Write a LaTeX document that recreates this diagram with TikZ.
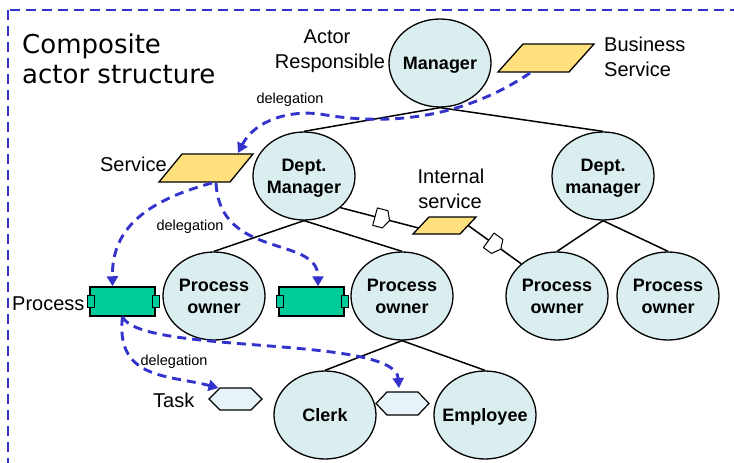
\documentclass[tikz,border=0pt]{standalone}
\usepackage{fontspec}
\setmainfont{Liberation Sans}
\newfontfamily\compfont{DejaVu Sans}
\usetikzlibrary{arrows.meta,calc,shapes.geometric}
\definecolor{actfill}{RGB}{218,237,239}
\definecolor{svcfill}{RGB}{255,224,124}
\definecolor{procfill}{RGB}{0,204,153}
\definecolor{taskfill}{RGB}{230,243,249}
\definecolor{dblue}{RGB}{51,51,204}
\newcommand\nodp[1]{\raisebox{0pt}[\height][0pt]{#1}}
\begin{document}
\begin{tikzpicture}[x=1pt,y=-1pt,
  actor/.style={ellipse,draw,line width=1.3pt,fill=actfill,minimum width=102pt,minimum height=88pt,inner sep=0pt},
  albl/.style={font=\fontsize{18}{22}\selectfont\bfseries,align=center,inner sep=0pt},
  treeline/.style={draw,line width=1.5pt},
  deleg/.style={draw=dblue,line width=2.9pt,dash pattern=on 9pt off 6pt,-{Triangle[length=10pt,width=11pt]}},
  svc/.style={draw,line width=1.3pt,fill=svcfill,line join=miter},
  proc/.style={draw,line width=1.5pt,fill=procfill,minimum width=65pt,minimum height=29pt,inner sep=0pt},
  tabbox/.style={draw,line width=1.3pt,fill=procfill,minimum width=7pt,minimum height=12pt,inner sep=0pt},
  taskshape/.style={draw,line width=1.2pt,fill=taskfill},
  txt/.style={font=\fontsize{20}{24}\selectfont,inner sep=0pt,anchor=base},
  smalltxt/.style={font=\fontsize{14.5}{17}\selectfont,inner sep=0pt,anchor=base},
  outerframe/.style={draw=dblue,line width=2.3pt,dash pattern=on 10pt off 6pt},
  plugst/.style={draw,fill=white,line width=1pt,line join=round}
]
\useasboundingbox (0,0) rectangle (734,463);
\clip (0,0) rectangle (734,463);
\draw[outerframe] (8,10) rectangle (780,500);

% actors
\node[actor, label={[albl]center:\nodp{Manager}}] (mgr) at (440,63) {};
\node[actor, label={[albl]center:{Dept.\\\nodp{Manager}}}] (dm1) at (304,176) {};
\node[actor, label={[albl]center:{Dept.\\\nodp{manager}}}] (dm2) at (603,176) {};
\node[actor, label={[albl]center:{Process\\\nodp{owner}}}] (po1) at (214,296) {};
\node[actor, label={[albl]center:{Process\\\nodp{owner}}}] (po2) at (402,296) {};
\node[actor, label={[albl]center:{Process\\\nodp{owner}}}] (po3) at (557,296) {};
\node[actor, label={[albl]center:{Process\\\nodp{owner}}}] (po4) at (668,296) {};
\node[actor, label={[albl]center:\nodp{Clerk}}] (clerk) at (325,415) {};
\node[actor, label={[albl]center:\nodp{Employee}}] (emp) at (485,415) {};

% tree lines
\draw[treeline] (mgr.south) -- (dm1.north);
\draw[treeline] (mgr.south) -- (dm2.north);
\draw[treeline] (dm1.south) -- (po1.north);
\draw[treeline] (dm1.south) -- (po2.north);
\draw[treeline] (dm2.south) -- (po3.north);
\draw[treeline] (dm2.south) -- (po4.north);
\draw[treeline] (po2.south) -- (clerk.north);
\draw[treeline] (po2.south) -- (emp.north);

% services
\coordinate (bsv) at (546,58);
\draw[svc] ($(bsv)+(-48,14)$) -- ++(71,0) -- ++(25,-28) -- ++(-71,0) -- cycle;
\coordinate (svc) at (206,168);
\draw[svc] ($(svc)+(-47,14)$) -- ++(71,0) -- ++(23,-28) -- ++(-71,0) -- cycle;
\coordinate (isv) at (444.5,225.5);
\coordinate (isl) at ($(isv)+(-26,2.5)$);
\coordinate (isr) at ($(isv)+(23,-0.5)$);
\draw[treeline] (dm1.-41) -- (isl);
\draw[treeline] (isr) -- (po3.138);
\draw[svc] ($(isv)+(-31.5,8.5)$) -- ++(47,0) -- ++(16,-17) -- ++(-47,0) -- cycle;
\coordinate (pl1) at ($(dm1.-41)!0.53!(isl)$);
\coordinate (pl2) at ($(isr)!0.5!(po3.138)$);
\draw[plugst, shift={(pl1)}, rotate=-15] (-7pt,-9pt) -- (3pt,-9pt) -- (8pt,0pt) -- (4pt,9pt) -- (-7pt,9pt) -- cycle;
\draw[plugst, shift={(pl2)}, rotate=-36] (-7pt,-9pt) -- (3pt,-9pt) -- (8pt,0pt) -- (4pt,9pt) -- (-7pt,9pt) -- cycle;

% processes
\node[proc] (p1) at (122.5,301.5) {};
\node[tabbox] (p1l) at ([xshift=1.5pt]p1.west) {};
\node[tabbox] (p1r) at (p1.east) {};
\node[proc] (p2) at (311.5,301.5) {};
\node[tabbox] (p2l) at ([xshift=1.5pt]p2.west) {};
\node[tabbox] (p2r) at (p2.east) {};

% tasks
\coordinate (t1) at (235.5,399);
\draw[taskshape] ($(t1)+(-26.5,0)$) -- ++(11,-11) -- ++(31,0) -- ++(11,11) -- ++(-11,11) -- ++(-31,0) -- cycle;
\coordinate (t2) at (402.5,403.5);
\draw[taskshape] ($(t2)+(-26.5,0)$) -- ++(11,-11.5) -- ++(31,0) -- ++(11,11.5) -- ++(-11,11.5) -- ++(-31,0) -- cycle;

% delegation arrows
\draw[deleg] ($(bsv)+(-16,15)$) .. controls (490,100) and (420,132) .. (320,114) .. controls (290,110) and (255,120) .. ($(svc)+(32,-15)$);
\draw[deleg] ($(svc)+(6,15)$) .. controls (130,205) and (112,240) .. ([xshift=-10pt]p1.north);
\draw[deleg] ($(svc)+(10,15)$) .. controls (220,260) and (318,235) .. ([xshift=6.5pt]p2.north);
\draw[deleg] (p1.south) .. controls (115,380) and (170,375) .. ($(t1)+(-17,-11)$);
\draw[deleg] (p1.south) .. controls (140,355) and (395,335) .. ($(t2)+(-3.5,-15.5)$);

% labels
\node[txt] (lactor) at (327,43) {Actor};
\node[txt] (lresp) at (330,68) {Responsible};
\node[txt, anchor=base west] (lbus1) at (604,51) {Business};
\node[txt, anchor=base west] (lbus2) at (604,76) {Service};
\node[txt, anchor=base east] (lsvc) at (167,171) {Service};
\node[txt] (lint1) at (451,183) {Internal};
\node[txt] (lint2) at (450,208) {service};
\node[txt, anchor=base west] (lproc) at (12,310) {Process};
\node[txt, anchor=base west] (ltask) at (153,407) {Task};
\node[smalltxt] (ld1) at (290,103) {delegation};
\node[smalltxt] (ld2) at (190,230) {delegation};
\node[smalltxt] (ld3) at (174,365) {delegation};
\node[font=\compfont\fontsize{26}{30}\selectfont, inner sep=0pt, anchor=base west] (title1) at (22,53) {Composite};
\node[font=\compfont\fontsize{26}{30}\selectfont, inner sep=0pt, anchor=base west] (title2) at (22,83) {actor structure};
\end{tikzpicture}
\end{document}
